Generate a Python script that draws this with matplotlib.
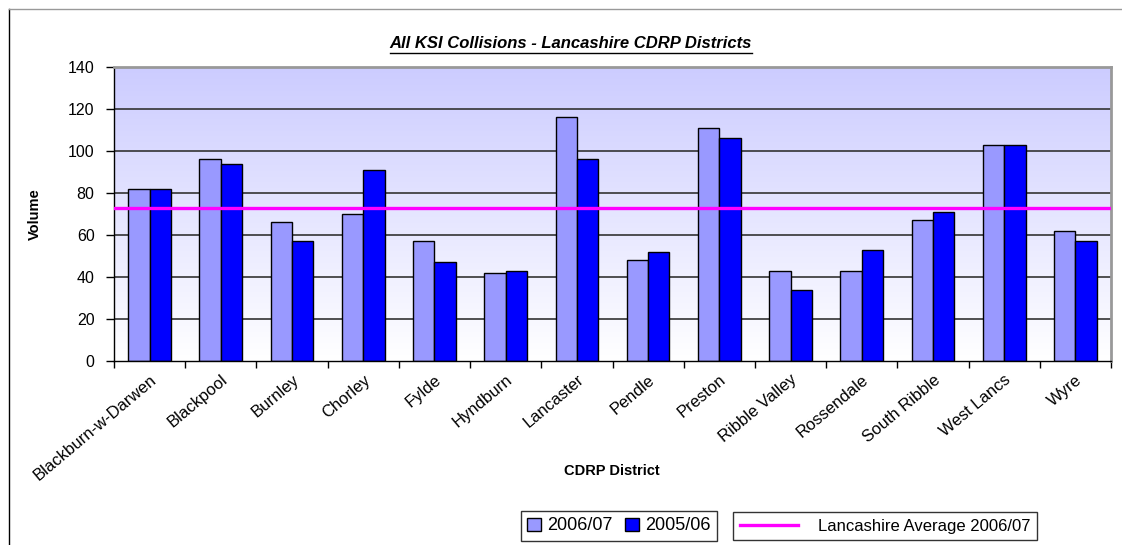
import numpy as np
import matplotlib
matplotlib.use("Agg")
import matplotlib.pyplot as plt
from matplotlib.lines import Line2D
from matplotlib.patches import Patch

# Data
districts = [
    "Blackburn-w-Darwen", "Blackpool", "Burnley", "Chorley", "Fylde",
    "Hyndburn", "Lancaster", "Pendle", "Preston", "Ribble Valley",
    "Rossendale", "South Ribble", "West Lancs", "Wyre",
]
ksi_2006_07 = [82, 96, 66, 70, 57, 42, 116, 48, 111, 43, 43, 67, 103, 62]
ksi_2005_06 = [82, 94, 57, 91, 47, 43, 96, 52, 106, 34, 53, 71, 103, 57]
lancs_average = 73
y_ticks = [0, 20, 40, 60, 80, 100, 120, 140]

plt.rcParams["font.family"] = ["Liberation Sans", "DejaVu Sans"]

W, H = 1122, 545
fig = plt.figure(figsize=(W / 100, H / 100), dpi=100)
fig.patch.set_facecolor("white")

ax_l, ax_r, ax_t, ax_b = 114, 1111, 67, 361
ax = fig.add_axes([ax_l / W, 1 - ax_b / H, (ax_r - ax_l) / W, (ax_b - ax_t) / H])

# gradient plot area background
grad = np.linspace(0, 1, 256).reshape(-1, 1)
top_c = np.array([204, 204, 255]) / 255
bot_c = np.array([255, 255, 255]) / 255
img = top_c * (1 - grad[:, :, None]) + bot_c * grad[:, :, None]
img = img.reshape(256, 1, 3)
ax.imshow(img, aspect="auto", extent=[0, 1, 0, 1], transform=ax.transAxes,
          zorder=0, interpolation="bilinear")

x = np.arange(len(districts))
bw = 0.3
ax.set_xlim(-0.5, len(districts) - 0.5)
ax.set_ylim(0, 140)

for yv in y_ticks[1:-1]:
    ax.axhline(yv, color="#333333", lw=1.2, zorder=1)

ax.bar(x - bw / 2, ksi_2006_07, bw, color="#9999ff", edgecolor="black",
       lw=1.0, zorder=2, label="2006/07")
ax.bar(x + bw / 2, ksi_2005_06, bw, color="#0000ff", edgecolor="black",
       lw=1.0, zorder=2, label="2005/06")
ax.axhline(lancs_average, color="#ff00ff", lw=2.4, zorder=3)

ax.set_yticks(y_ticks)
ax.set_yticklabels([str(v) for v in y_ticks], fontsize=11.5)
ax.tick_params(axis="y", direction="out", length=6, width=1, pad=8)

ax.set_xticks(x)
ax.set_xticklabels(districts, rotation=40, ha="right", va="top",
                   rotation_mode="anchor", fontsize=12)
ax.tick_params(axis="x", which="major", length=0, pad=8)
ax.set_xticks(np.arange(-0.5, len(districts)), minor=True)
ax.tick_params(axis="x", which="minor", direction="out", length=5, width=1)

for side in ["top", "right"]:
    ax.spines[side].set_color("#999999")
    ax.spines[side].set_linewidth(2)
for side in ["left", "bottom"]:
    ax.spines[side].set_color("black")
    ax.spines[side].set_linewidth(1)

ax.set_ylabel("Volume", fontsize=10.5, fontweight="bold", labelpad=0)
ax.yaxis.set_label_coords(-72 / (ax_r - ax_l), 0.5)
fig.text(612 / W, 1 - 471 / H, "CDRP District", ha="center", va="center",
         fontsize=10.5, fontweight="bold")

# underlined title
title = fig.text(571 / W, 1 - 44 / H, "All KSI Collisions - Lancashire CDRP Districts",
                 ha="center", va="center", fontsize=12, fontweight="bold",
                 fontstyle="italic")
fig.canvas.draw()
bb = title.get_window_extent().transformed(fig.transFigure.inverted())
fig.add_artist(Line2D([bb.x0, bb.x1], [bb.y0 - 1 / H, bb.y0 - 1 / H],
                      color="black", lw=1, transform=fig.transFigure))

# chart frame lines
fig.add_artist(Line2D([9 / W, 9 / W], [0, 1 - 9 / H], color="black", lw=1,
                      transform=fig.transFigure))
fig.add_artist(Line2D([9 / W, 1], [1 - 9 / H, 1 - 9 / H], color="#999999", lw=1,
                      transform=fig.transFigure))

# legends
handles1 = [Patch(facecolor="#9999ff", edgecolor="black", label="2006/07"),
            Patch(facecolor="#0000ff", edgecolor="black", label="2005/06")]
leg1 = fig.legend(handles=handles1, loc="center", ncol=2,
                  bbox_to_anchor=(619 / W, 1 - 526 / H), fontsize=13,
                  frameon=True, fancybox=False, edgecolor="black",
                  handlelength=0.75, handleheight=0.75, handletextpad=0.35,
                  columnspacing=0.7, borderpad=0.35, borderaxespad=0)
leg1.get_frame().set_linewidth(1)

handles2 = [Line2D([0], [0], color="#ff00ff", lw=2.4,
                   label="Lancashire Average 2006/07")]
leg2 = fig.legend(handles=handles2, loc="center",
                  bbox_to_anchor=(885 / W, 1 - 526 / H), fontsize=12,
                  frameon=True, fancybox=False, edgecolor="black",
                  handlelength=3.5, handletextpad=1.2, borderpad=0.4,
                  borderaxespad=0)
leg2.get_frame().set_linewidth(1)

fig.savefig("out.png", dpi=100)
